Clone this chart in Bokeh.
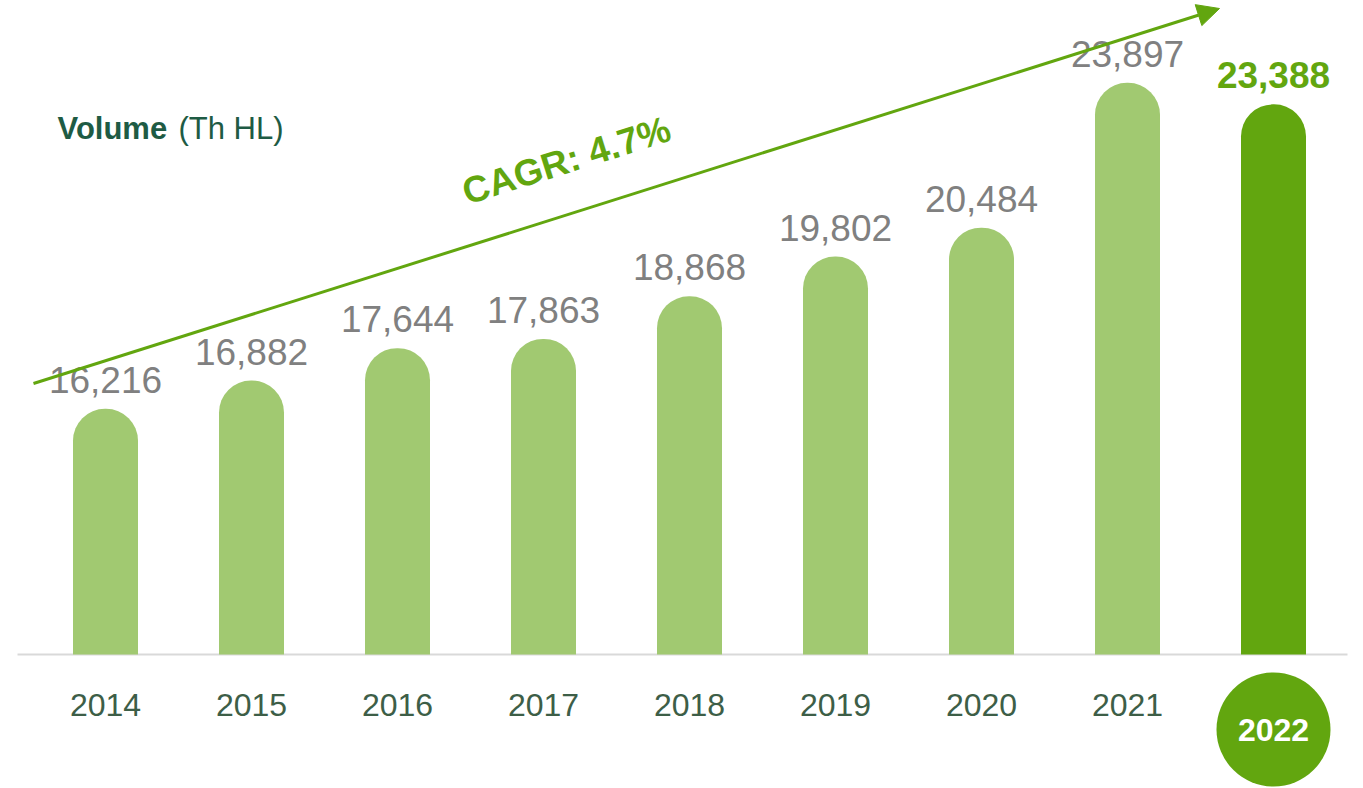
from bokeh.plotting import figure
from bokeh.models import Range1d, Arrow, NormalHead, ColumnDataSource
from bokeh.core.properties import value
from bokeh.embed import file_html
from bokeh.resources import INLINE

years = ["2014", "2015", "2016", "2017", "2018", "2019", "2020", "2021", "2022"]
volumes = [16216, 16882, 17644, 17863, 18868, 19802, 20484, 23897, 23388]
labels = ["16,216", "16,882", "17,644", "17,863", "18,868", "19,802", "20,484", "23,897", "23,388"]
title_bold = "Volume"
title_rest = "(Th HL)"
cagr_text = "CAGR: 4.7%"

LIGHT = "#a1c971"
DARK = "#62a60f"
GRAY = "#808080"
YEARC = "#3d5e47"
TITLEC = "#1e5b44"
FONT = "Liberation Sans"

W, H = 1363, 788
ppu_x = 146.0            # px per category step
x0 = -105.0 / ppu_x
base = 10427.0           # value at the bar baseline
k = 23.56                # data units per px
base_py = 654
y0 = base - (H - base_py) * k
y1 = y0 + H * k

def X(px):
    return x0 + px / ppu_x

def Y(py):
    return y1 - py * k

p = figure(width=W, height=H, output_backend="svg", toolbar_location=None,
           x_range=Range1d(x0, x0 + W / ppu_x), y_range=Range1d(y0, y1),
           min_border=0, outline_line_color=None)
p.axis.visible = False
p.grid.visible = False
p.background_fill_color = "white"
p.border_fill_color = "white"

idx = list(range(len(years)))
n = len(years)
colors = [LIGHT] * (n - 1) + [DARK]
src = ColumnDataSource(dict(x=idx, top=volumes, c=colors))

# baseline
p.segment(x0=[X(17)], y0=[Y(base_py)], x1=[X(1347)], y1=[Y(base_py)],
          line_color="#d9d9d9", line_width=2)

p.vbar(x="x", top="top", bottom=base, width=65 / ppu_x, fill_color="c",
       line_color=None, source=src, border_radius=(32, 32, 0, 0))

# value labels (centred ~29px above bar tops)
gap = 29 * k
src_l = ColumnDataSource(dict(x=idx[:-1], y=[v + gap for v in volumes[:-1]], t=labels[:-1]))
p.text(x="x", y="y", text="t", source=src_l, text_align="center",
       text_baseline="middle", text_font=value(FONT), text_font_size="37px",
       text_color=GRAY)
p.text(x=[idx[-1]], y=[volumes[-1] + gap], text=[labels[-1]],
       text_align="center", text_baseline="middle", text_font=value(FONT),
       text_font_size="37px", text_font_style="bold", text_color=DARK)

# year labels
p.text(x=idx[:-1], y=[Y(704)] * (n - 1), text=years[:-1], text_align="center",
       text_baseline="middle", text_font=value(FONT), text_font_size="32px",
       text_color=YEARC)
p.scatter(x=[idx[-1]], y=[Y(729)], size=114, marker="circle", fill_color=DARK,
          line_color=None)
p.text(x=[idx[-1]], y=[Y(729)], text=[years[-1]], text_align="center",
       text_baseline="middle", text_font=value(FONT), text_font_size="32px",
       text_font_style="bold", text_color="white")

# CAGR arrow
p.add_layout(Arrow(end=NormalHead(size=22, fill_color=DARK, line_color=DARK),
                   x_start=X(33), y_start=Y(383), x_end=X(1219), y_end=Y(8),
                   line_color=DARK, line_width=3))
p.text(x=[X(566)], y=[Y(160)], text=[cagr_text], angle=17.5, angle_units="deg",
       text_align="center", text_baseline="middle", text_font=value(FONT),
       text_font_size="37px", text_font_style="bold", text_color=DARK)

# title
p.text(x=[X(57)], y=[Y(128)], text=[title_bold], text_align="left",
       text_baseline="middle", text_font=value(FONT), text_font_size="31px",
       text_font_style="bold", text_color=TITLEC)
p.text(x=[X(178)], y=[Y(128)], text=[title_rest], text_align="left",
       text_baseline="middle", text_font=value(FONT), text_font_size="31px",
       text_color=TITLEC)

open("out.html", "w").write(file_html(p, INLINE))
